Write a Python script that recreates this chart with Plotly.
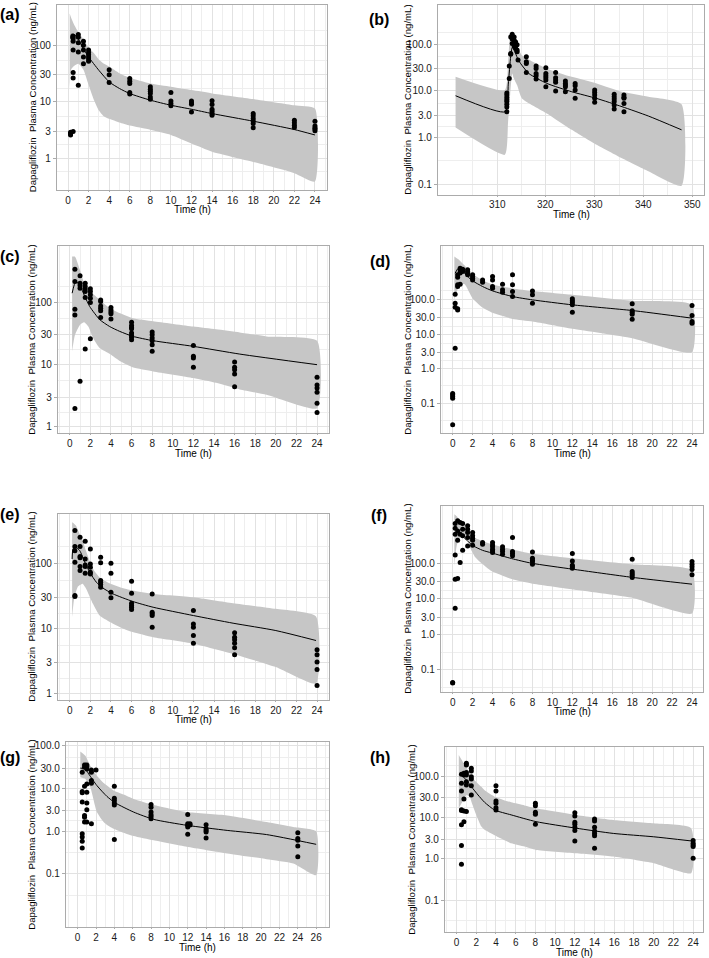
import math
import plotly.graph_objects as go

# ---------------- data (time in h, concentration in ng/mL) ----------------
# (a)
a_times = [0.25, 0.5, 1, 1.5, 2, 4, 6, 8, 10, 12, 14, 18, 22, 24]
a_conc = [
    [2.6, 2.7, 2.8, 2.9],
    [144, 131, 118, 82, 33, 26.3, 3.0],
    [154, 138, 111, 76, 19.7],
    [118, 100, 82, 62, 47],
    [82, 74, 68, 62, 57, 52],
    [37, 30, 22],
    [25.8, 23.2, 21, 14.6, 13.8],
    [18.4, 16.7, 15.4, 14, 12.2, 11.1],
    [14.6, 10.3, 9.3, 8.5],
    [10.3, 9.5, 9.1, 6.6],
    [10.4, 9.0, 7.4, 6.8, 6.2, 5.8],
    [6.2, 5.7, 5.1, 4.6, 4.15, 3.5],
    [4.75, 4.26, 3.87, 3.52],
    [4.55, 3.75, 3.46, 3.3, 3.1],
]
a_band_t = [0.16, 0.32, 0.65, 1.0, 1.5, 2.0, 2.5, 3.0, 3.5, 4.0, 5.0, 6.0, 8, 10, 12, 14, 18, 22, 24]
a_hi = [362, 300, 220, 170, 128, 90, 73, 56, 47, 42, 32, 26.5, 21, 18.4, 16.1, 14.1, 11.2, 8.7, 7.6]
a_lo = [16.7, 38, 44, 47, 37, 20, 11, 7.0, 5.5, 5.0, 4.3, 3.8, 3.2, 2.6, 1.84, 1.32, 0.87, 0.55, 0.39]
a_med_t = [0.25, 0.32, 0.58, 1.0, 1.5, 2.0, 3.0, 4.0, 5, 6, 8, 10, 12, 14, 18, 22, 24]
a_med = [131, 156, 156, 128, 86, 62, 36, 22.5, 17.2, 14, 10.7, 8.7, 7.4, 6.2, 4.55, 3.24, 2.6]

# (b)
b_times = [312.0, 312.5, 312.8, 313.1, 313.5, 313.8, 314.1, 314.3, 316, 318, 320, 322, 324, 326, 330, 334, 336]
b_conc = [
    [3.6, 4.5, 5.2, 5.9, 6.5, 7.2, 8.2, 9.0],
    [18.5, 34],
    [61, 63, 143],
    [103, 163, 130],
    [143, 122, 92, 105],
    [112, 81, 95],
    [98, 69, 75],
    [45.7],
    [53.7, 42, 38.7, 24.9],
    [34, 30.2, 23.7, 21.1, 18],
    [31.3, 23.7, 21.1, 19.2, 17.1, 12.3],
    [24.9, 19.2, 17.1, 15.3, 9.9],
    [16.3, 14.5, 13.4, 12.3, 9.6],
    [14.5, 12.9, 10.4, 6.95],
    [10.4, 9.3, 8.2, 6.95, 5.7],
    [8.5, 7.5, 6.7, 5.9, 5.0, 4.1],
    [8.2, 7.3, 6.95, 5.4, 3.6],
]
b_band_t = [301.5, 311.6, 312.25, 312.7, 313.1, 313.4, 314.1, 315.1, 320.2, 325.3, 330.4, 335.6, 341, 347.8]
b_hi = [20.1, 10.4, 40, 155, 175, 183, 95, 58, 30, 20, 14.5, 9.6, 7.5, 5.2]
b_lo = [1.64, 0.43, 2.1, 8.7, 23.7, 19, 13.4, 6.9, 3.3, 1.47, 0.70, 0.36, 0.19, 0.093]
b_med_t = [301.5, 311.7, 312.3, 312.8, 313.1, 313.5, 314.4, 316.5, 320.2, 325.3, 330.4, 335.6, 341, 347.8]
b_med = [7.9, 3.6, 14, 55, 85, 75, 45, 23.7, 14.5, 9.6, 6.9, 4.6, 2.9, 1.47]

# (c)
c_times = [0.5, 1, 1.5, 2, 3, 4, 6, 8, 12, 16, 24]
c_conc = [
    [343, 217, 78, 63, 1.97],
    [268, 204, 187, 170, 5.4],
    [204, 181, 164, 150, 120, 17.8],
    [166, 150, 133, 117, 100, 26.1],
    [110, 104, 88, 81, 73.5, 57.4],
    [83, 76, 70, 65.8, 54],
    [48.3, 42.8, 39.7, 37.8, 32.2, 29.5, 27.5, 25.2],
    [33.4, 30.3, 26.8, 24.3, 20.9, 16.4],
    [20.4, 13.6, 12.8, 9.1],
    [11.0, 9.1, 8.3, 7.1, 4.4],
    [6.3, 4.7, 4.2, 3.6, 2.4, 1.7],
]
c_band_t = [0.23, 0.5, 1.0, 1.4, 1.8, 2.3, 2.9, 3.9, 4.9, 6.1, 8.1, 12, 14.2, 16.5, 19.1, 24]
c_hi = [547, 547, 330, 205, 160, 135, 110, 81, 67, 56, 50, 41, 37, 33, 28.5, 24.3]
c_lo = [16.4, 30, 44, 48, 41, 26, 18.5, 14.8, 11.3, 9.1, 7.8, 6.1, 5.1, 4.0, 3.3, 2.0]
c_med_t = [0.23, 0.58, 0.97, 1.46, 1.94, 2.91, 3.88, 4.85, 6.14, 8.09, 12, 16.5, 24]
c_med = [141, 217, 192, 125, 86, 53, 41, 34.3, 28.5, 24.3, 19.7, 14.8, 10]

# (d)
d_times = [0, 0.25, 0.5, 0.75, 1, 1.5, 2, 3, 4, 5, 6, 8, 12, 18, 24]
d_conc = [
    [0.19, 0.174, 0.156, 0.139, 0.0234],
    [146, 80, 61, 3.9],
    [532, 455, 244, 273, 55, 51],
    [600, 285, 832, 700],
    [743, 780, 665],
    [743, 665, 594, 532],
    [532, 476, 427, 380],
    [380, 326],
    [476, 380, 244, 218],
    [285, 195, 167],
    [532, 273, 175, 125],
    [182, 140, 80],
    [107, 93.5, 83.7, 71.6, 43.9],
    [76.6, 47.9, 43.9, 38.4, 27.5],
    [68.4, 35.1, 23.5, 21],
]
d_band_t = [0.17, 0.7, 1.2, 2.0, 3.0, 4.0, 6.0, 8.0, 12, 18, 24]
d_hi = [1811, 1400, 1000, 560, 370, 280, 215, 180, 140, 93.5, 71.6]
d_lo = [100, 273, 285, 110, 60, 42, 28, 23.5, 14.4, 7.7, 3.0]
d_med_t = [0.25, 0.5, 0.8, 1.0, 1.5, 2, 3, 4, 6, 8, 12, 18, 24]
d_med = [594, 794, 832, 693, 476, 356, 244, 182, 125, 100, 71.6, 49, 29.4]

# (e)
e_times = [0.5, 1, 1.5, 2, 3, 4, 6, 8, 12, 16, 24]
e_conc = [
    [326, 185, 160, 106, 32.6, 31.4],
    [257, 185, 130, 124, 91, 79],
    [223, 119, 96.5, 91, 71.8],
    [170, 100, 89, 74.5, 70],
    [127, 104, 55.5, 52, 48, 43.8],
    [102, 71.8, 36.6, 30],
    [54, 35.4, 24.8, 22.9, 21.5, 19.8],
    [34.5, 18, 17, 16, 10.6],
    [19.1, 11.9, 10.6, 7.9, 6.0],
    [8.7, 7.4, 6.8, 6.0, 5.1, 4.0],
    [4.75, 4.0, 3.07, 2.37, 1.34],
]
e_band_t = [0.23, 0.4, 0.6, 0.8, 1.1, 1.25, 1.6, 2.25, 2.9, 3.9, 5.2, 6.1, 8.1, 12, 15.85, 20, 23.9]
e_hi = [437, 420, 389, 330, 260, 230, 155, 84, 62, 50, 42, 38.9, 34.5, 30.7, 24.8, 20.3, 15.5]
e_lo = [15.1, 27.3, 37, 44.8, 48, 49.3, 41.2, 24.3, 16, 12.7, 10, 8.9, 7.4, 5.9, 4.1, 2.57, 1.43]
e_med_t = [0.23, 0.32, 0.58, 0.97, 1.46, 1.94, 2.59, 3.23, 4.2, 6.14, 8.09, 12, 15.85, 20, 23.9]
e_med = [119, 170, 180, 160, 106, 74.5, 52, 42.3, 34.5, 26.3, 21.5, 16, 12.2, 9.4, 6.6]

# (f)
f_times = [0, 0.25, 0.5, 0.75, 1, 1.5, 2, 3, 4, 5, 6, 8, 12, 18, 24]
f_conc = [
    [0.044, 0.043],
    [1303, 964, 653, 171, 35.5, 5.4],
    [1550, 811, 443, 37],
    [1390, 653, 104],
    [1303, 587, 232, 903],
    [1122, 903, 728, 526, 307],
    [728, 587, 504, 443, 321],
    [381, 342],
    [381, 327, 288, 248, 222, 200],
    [288, 248, 213, 179],
    [527, 213, 187, 161],
    [208, 138, 121, 109, 94],
    [187, 116, 88, 79, 72],
    [130, 58, 51.2, 46, 39.5],
    [111, 94, 79, 66.4, 47],
]
f_band_t = [0.17, 0.4, 0.83, 1.23, 1.74, 2.24, 2.9, 3.9, 5.9, 7.9, 11.9, 17.9, 24]
f_hi = [2388, 2100, 1500, 1122, 680, 520, 425, 342, 248, 187, 138, 93.7, 63.5]
f_lo = [84, 307, 587, 653, 276, 150, 100, 60, 36, 27, 18.6, 10.8, 3.85]
f_med_t = [0.5, 0.9, 1.5, 2.07, 3, 3.9, 5.9, 7.9, 12, 18, 24]
f_med = [700, 600, 420, 307, 230, 195, 135, 100, 68, 40, 25.7]

# (g)
g_times = [0.5, 0.75, 1, 1.5, 2, 4, 8, 12, 12.25, 14, 24]
g_conc = [
    [23.9, 8.5, 7.9, 4.8, 0.87, 0.73, 0.58, 0.40],
    [35.4, 31.3, 11.3, 2.33, 2.13, 1.63],
    [35.4, 32.4, 28.6, 12.8, 8.2, 4.6, 3.16, 1.63],
    [27.1, 23.9, 15.3, 13.2, 1.49],
    [27.1],
    [11.3, 5.9, 5.2, 4.6, 4.1, 0.64],
    [4.2, 3.65, 2.8, 2.42, 2.21, 1.95],
    [2.47, 1.49, 1.37, 1.25, 0.84],
    [1.5, 1.4],
    [1.42, 1.14, 1.04, 0.95, 0.69],
    [0.92, 0.67, 0.61, 0.45, 0.25],
]
g_band_t = [0.29, 0.84, 1.38, 2.1, 2.83, 3.2, 3.92, 5.0, 6.1, 8.28, 11.9, 16.3, 20.6, 23.5, 26]
g_hi = [73.8, 58.5, 34.2, 20, 13.5, 11.7, 9.0, 7.2, 5.7, 4.1, 2.8, 2.33, 1.63, 1.25, 0.99]
g_lo = [18.3, 16.7, 10.7, 2.8, 1.63, 1.4, 1.14, 0.92, 0.77, 0.61, 0.43, 0.3, 0.22, 0.175, 0.093]
g_med_t = [0.29, 0.8, 1.2, 2.1, 3.2, 4.1, 6.1, 8.28, 11.9, 16.3, 20.6, 26]
g_med = [30, 29, 22, 11.7, 6.5, 4.6, 2.8, 1.89, 1.37, 1.04, 0.83, 0.49]

# (h)
h_times = [0.5, 0.75, 1, 1.5, 4, 8, 12, 14, 24]
h_conc = [
    [110, 66.6, 43.5, 15.4, 14.6, 6.6, 2.08, 0.74],
    [105, 116, 27.9, 7.9, 14.3],
    [202, 184, 122, 106, 73, 60.7, 13.8],
    [153, 132, 96, 84.7, 58.5, 34.8],
    [58.5, 43.5, 25, 21.9, 17.2, 15.1],
    [21.9, 19.2, 13.3, 11.9, 6.8],
    [13.0, 10.8, 7.6, 6.8, 5.8, 4.8, 2.7],
    [9.2, 8.2, 5.8, 4.7, 4.1, 3.6, 1.8],
    [2.75, 2.37, 2.16, 1.97, 1.03],
]
h_band_t = [0.23, 0.5, 0.84, 1.0, 1.34, 1.51, 2.0, 2.52, 2.85, 3.86, 5.54, 6.9, 8.06, 12.1, 15.9, 20, 23.8]
h_hi = [321, 250, 184, 160, 115, 96, 72, 55, 45, 31.7, 23.1, 19.5, 16.6, 11.5, 8.7, 7.2, 5.5]
h_lo = [16.6, 21.9, 30, 34.8, 31.7, 24, 11.5, 6.0, 5.0, 3.7, 2.37, 1.97, 1.64, 1.36, 1.13, 0.78, 0.45]
h_med_t = [0.34, 0.67, 1.0, 1.51, 2.18, 2.85, 3.86, 5.54, 8.06, 12.1, 15.9, 20, 23.8]
h_med = [110, 96, 80, 55, 34.8, 23.1, 15.1, 11.5, 7.9, 5.5, 4.1, 3.4, 2.7]

# tick labels
x_ticks_24 = [0, 2, 4, 6, 8, 10, 12, 14, 16, 18, 20, 22, 24]
x_ticks_26 = [0, 2, 4, 6, 8, 10, 12, 14, 16, 18, 20, 22, 24, 26]
x_ticks_b = [310, 320, 330, 340, 350]
y_ticks_5 = [1, 3, 10, 30, 100]
y_text_5 = ["1", "3", "10", "30", "100"]
y_ticks_6 = [0.1, 1, 3, 10, 30, 100]
y_text_6 = ["0.1", "1.0", "3.0", "10.0", "30.0", "100.0"]

Y_TITLE = "Dapagliflozin  Plasma Concentration (ng/mL)"
X_TITLE = "Time (h)"

W, H = 709, 958
FONT = "Liberation Sans, Arial, sans-serif"
BAND = "#c6c6c6"
GRID = "#e2e2e2"
GRID_MINOR = "#eeeeee"
BORDER = "#ababab"
TICK_TXT = "#1a1a1a"

# panel layout: box = (left, right, top, bottom) in px, ranges, label/title positions
# own_xlabels: write the x tick labels as paper annotations (panel b's last label is dropped by the axis)
panels = [
    dict(lab="(a)", times=a_times, conc=a_conc, bt=a_band_t, lo=a_lo, hi=a_hi, mt=a_med_t, med=a_med,
         box=(57, 327, 3, 188), xr=[-1.07, 25.17], yr=[-0.55, 2.71],
         xt=x_ticks_24, yt=y_ticks_5, ytt=y_text_5, labxy=(10, 13), ytx=32, own_xlabels=False),
    dict(lab="(b)", times=b_times, conc=b_conc, bt=b_band_t, lo=b_lo, hi=b_hi, mt=b_med_t, med=b_med,
         box=(438, 704, 3, 193), xr=[297.9, 352.4], yr=[-1.22, 2.84],
         xt=x_ticks_b, yt=y_ticks_6, ytt=y_text_6, labxy=(379, 18), ytx=408, own_xlabels=True),
    dict(lab="(c)", times=c_times, conc=c_conc, bt=c_band_t, lo=c_lo, hi=c_hi, mt=c_med_t, med=c_med,
         box=(58, 329, 245, 432), xr=[-1.14, 25.16], yr=[-0.1, 2.9],
         xt=x_ticks_24, yt=y_ticks_5, ytt=y_text_5, labxy=(10, 255), ytx=32, own_xlabels=False),
    dict(lab="(d)", times=d_times, conc=d_conc, bt=d_band_t, lo=d_lo, hi=d_hi, mt=d_med_t, med=d_med,
         box=(441, 703, 245, 432), xr=[-1.17, 25.1], yr=[-1.87, 3.55],
         xt=x_ticks_24, yt=y_ticks_6, ytt=y_text_6, labxy=(380, 260), ytx=408, own_xlabels=False),
    dict(lab="(e)", times=e_times, conc=e_conc, bt=e_band_t, lo=e_lo, hi=e_hi, mt=e_med_t, med=e_med,
         box=(58, 329, 513, 699), xr=[-1.14, 25.16], yr=[-0.09, 2.77],
         xt=x_ticks_24, yt=y_ticks_5, ytt=y_text_5, labxy=(10, 514), ytx=32, own_xlabels=False),
    dict(lab="(f)", times=f_times, conc=f_conc, bt=f_band_t, lo=f_lo, hi=f_hi, mt=f_med_t, med=f_med,
         box=(441, 703, 505, 691), xr=[-1.17, 25.1], yr=[-1.61, 3.61],
         xt=x_ticks_24, yt=y_ticks_6, ytt=y_text_6, labxy=(379, 515), ytx=408, own_xlabels=False),
    dict(lab="(g)", times=g_times, conc=g_conc, bt=g_band_t, lo=g_lo, hi=g_hi, mt=g_med_t, med=g_med,
         box=(66, 329, 742, 927), xr=[-1.27, 27.4], yr=[-2.25, 2.08],
         xt=x_ticks_26, yt=y_ticks_6, ytt=y_text_6, labxy=(10, 757), ytx=32, own_xlabels=False),
    dict(lab="(h)", times=h_times, conc=h_conc, bt=h_band_t, lo=h_lo, hi=h_hi, mt=h_med_t, med=h_med,
         box=(445, 703, 747, 932), xr=[-1.17, 25.0], yr=[-1.77, 2.69],
         xt=x_ticks_24, yt=y_ticks_6, ytt=y_text_6, labxy=(380, 757), ytx=412, own_xlabels=False),
]


def px(x):
    return x / W


def py(y):
    return 1 - y / H


def minor_lin(ticks):
    step = ticks[1] - ticks[0]
    return [ticks[0] - step / 2] + [t + step / 2 for t in ticks]


def minor_log(ticks):
    lg = [math.log10(t) for t in ticks]
    mids = [(lg[i] + lg[i + 1]) / 2 for i in range(len(lg) - 1)]
    mids = [lg[0] - (lg[1] - lg[0]) / 2] + mids + [lg[-1] + (lg[-1] - lg[-2]) / 2]
    return [10 ** m for m in mids]


fig = go.Figure()
annotations = []

for i, p in enumerate(panels, start=1):
    xa = "x" if i == 1 else f"x{i}"
    ya = "y" if i == 1 else f"y{i}"
    l, r, t, b = p["box"]

    # prediction interval band
    fig.add_trace(go.Scatter(
        x=p["bt"] + p["bt"][::-1], y=p["hi"] + p["lo"][::-1],
        fill="toself", fillcolor=BAND, mode="lines", line=dict(width=0, shape="spline", smoothing=0.5),
        hoverinfo="skip", showlegend=False, xaxis=xa, yaxis=ya))
    # median prediction
    fig.add_trace(go.Scatter(
        x=p["mt"], y=p["med"], mode="lines",
        line=dict(color="black", width=1, shape="spline", smoothing=0.6),
        showlegend=False, xaxis=xa, yaxis=ya))
    # observed points
    xs, ys = [], []
    for tt, cc in zip(p["times"], p["conc"]):
        xs += [tt] * len(cc)
        ys += cc
    fig.add_trace(go.Scatter(
        x=xs, y=ys, mode="markers", marker=dict(color="black", size=5),
        showlegend=False, xaxis=xa, yaxis=ya))

    common = dict(
        ticks="outside", tickcolor=BORDER, tickwidth=1,
        tickfont=dict(family=FONT, size=10, color=TICK_TXT),
        showgrid=True, gridcolor=GRID, gridwidth=1,
        showline=True, mirror=True, linecolor=BORDER, linewidth=1.3,
        zeroline=False, tickmode="array", ticklabeloverflow="allow",
    )
    fig.update_layout(**{
        ("xaxis" if i == 1 else f"xaxis{i}"): dict(
            domain=[px(l), px(r)], range=p["xr"], anchor=ya, ticklen=1,
            tickvals=p["xt"], ticktext=[str(v) for v in p["xt"]],
            showticklabels=not p["own_xlabels"],
            minor=dict(tickmode="array", tickvals=minor_lin(p["xt"]), showgrid=True,
                       gridcolor=GRID_MINOR, gridwidth=1, ticks=""),
            **common),
        ("yaxis" if i == 1 else f"yaxis{i}"): dict(
            domain=[py(b), py(t)], range=p["yr"], type="log", anchor=xa, ticklen=3,
            tickvals=p["yt"], ticktext=p["ytt"],
            minor=dict(tickmode="array", tickvals=minor_log(p["yt"]), showgrid=True,
                       gridcolor=GRID_MINOR, gridwidth=1, ticks=""),
            **common),
    })

    if p["own_xlabels"]:
        x0, x1 = p["xr"]
        for v in p["xt"]:
            annotations.append(dict(
                text=str(v), x=px(l + (v - x0) / (x1 - x0) * (r - l)), y=py(b + 9.5),
                xref="paper", yref="paper",
                showarrow=False, xanchor="center", yanchor="middle",
                font=dict(family=FONT, size=10, color=TICK_TXT)))

    annotations.append(dict(
        text=f"<b>{p['lab']}</b>", x=px(p["labxy"][0]), y=py(p["labxy"][1]),
        xref="paper", yref="paper", showarrow=False, xanchor="center", yanchor="middle",
        font=dict(family=FONT, size=16, color="black")))
    annotations.append(dict(
        text=Y_TITLE, x=px(p["ytx"]), y=py((t + b) / 2), textangle=-90,
        xref="paper", yref="paper", showarrow=False, xanchor="center", yanchor="middle",
        font=dict(family=FONT, size=9.6, color="black")))
    annotations.append(dict(
        text=X_TITLE, x=px((l + r) / 2), y=py(b + 20),
        xref="paper", yref="paper", showarrow=False, xanchor="center", yanchor="middle",
        font=dict(family=FONT, size=10, color="black")))

fig.update_layout(
    width=W, height=H, margin=dict(l=0, r=0, t=0, b=0),
    paper_bgcolor="white", plot_bgcolor="white",
    annotations=annotations, showlegend=False,
)

# drop the default page margin so the 709x958 figure fills the window exactly
page_fix = "document.body.style.margin='0';document.body.style.overflow='hidden';"
fig.write_html("out.html", config={"displayModeBar": False}, post_script=page_fix)
